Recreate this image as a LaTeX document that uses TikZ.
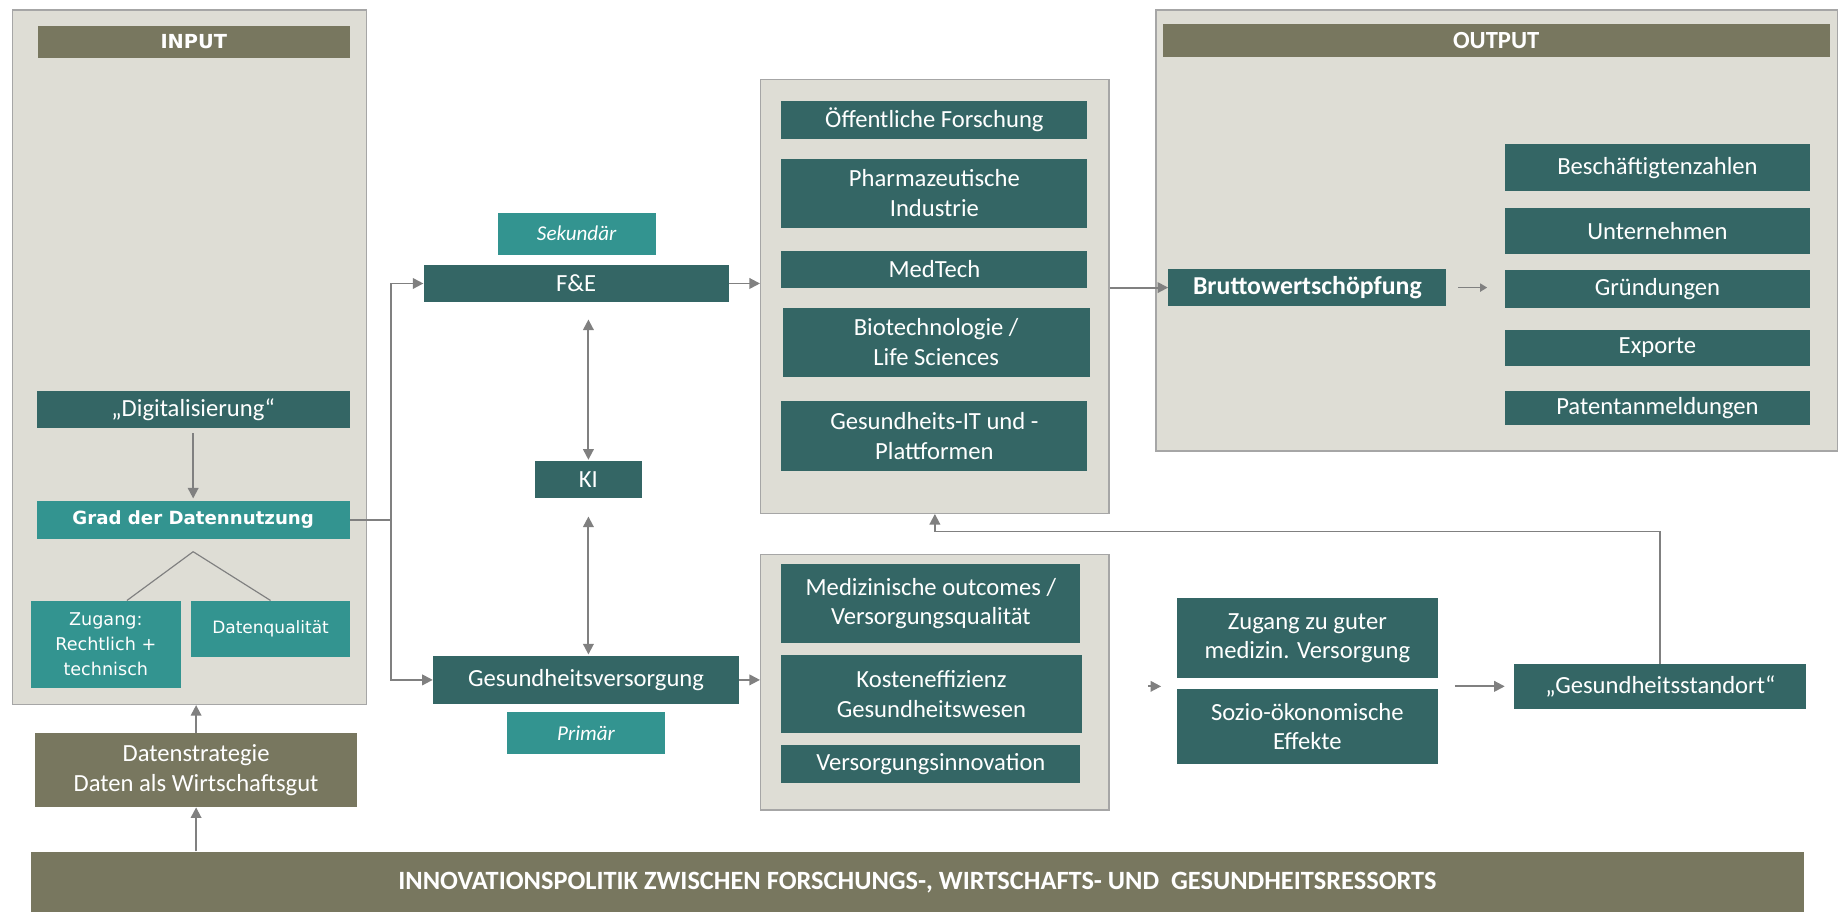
\documentclass[tikz,border=0pt]{standalone}
\usepackage{fontspec}
\setmainfont{Carlito}
\newfontfamily\vfont{DejaVu Sans}
\usetikzlibrary{arrows.meta,positioning}
\definecolor{dunkel}{HTML}{346665}
\definecolor{hell}{HTML}{339490}
\definecolor{oliv}{HTML}{78775F}
\definecolor{flaeche}{HTML}{DEDDD5}
\definecolor{rahmen}{HTML}{A6A6A6}
\definecolor{pfeil}{HTML}{808080}
\begin{document}
\begin{tikzpicture}[x=1pt, y=-1pt,
   every node/.style={anchor=north west, inner sep=0pt, align=center, text=white, font=\fontsize{21}{25}\selectfont},
   panel/.style={draw=rahmen, fill=flaeche, line width=1.2pt},
   dk/.style={fill=dunkel},
   hl/.style={fill=hell},
   ol/.style={fill=oliv},
   vd/.style={font=\fontsize{#1}{21.5}\selectfont\vfont},
   vdb/.style={font=\fontsize{#1}{18}\selectfont\vfont\bfseries},
   kursiv/.style={font=\fontsize{18}{22}\selectfont\itshape},
   pf/.style={draw=pfeil, line width=1.6pt, -{Triangle[length=9pt, width=9pt]}},
   dpf/.style={pf, {Triangle[length=9pt, width=9pt]}-{Triangle[length=9pt, width=9pt]}}]
   \useasboundingbox (0,0) rectangle (1568,777);
   % input
   \node[panel, minimum width=302pt, minimum height=592pt] (inp) at (10,8) {};
   \node[ol, minimum width=266pt, minimum height=27pt, vdb=16.5] (inph) at (32,22) {INPUT};
   \node[dk, minimum width=267pt, minimum height=32pt] (digi) at (31,333) {„Digitalisierung“};
   \node[hl, minimum width=267pt, minimum height=32pt, vdb=15.5] (grad) at (31,427) {Grad der Datennutzung};
   \node[hl, minimum width=128pt, minimum height=74pt, vd=15] (zug) at (26,512) {Zugang:\\Rechtlich +\\technisch};
   \node[hl, minimum width=135pt, minimum height=48pt, vd=14.5] (qual) at (163,512) {Datenqualität};
   \node[ol, minimum width=274pt, minimum height=63pt] (strat) at (30,625) {Datenstrategie\\Daten als Wirtschaftsgut};
   \node[ol, minimum width=1512pt, minimum height=52pt, font=\fontsize{22.5}{25}\selectfont\bfseries] (bar) at (26,726) {INNOVATIONSPOLITIK ZWISCHEN FORSCHUNGS-, WIRTSCHAFTS- UND\ \ GESUNDHEITSRESSORTS};
   % mitte
   \node[hl, minimum width=135pt, minimum height=36pt, kursiv] (sek) at (424,181) {Sekundär};
   \node[dk, minimum width=260pt, minimum height=31pt] (fe) at (361,226) {F\&E};
   \node[dk, minimum width=91pt, minimum height=31pt] (ki) at (456,393) {KI};
   \node[dk, minimum width=261pt, minimum height=41pt] (gv) at (369,559) {Gesundheitsversorgung};
   \node[hl, minimum width=135pt, minimum height=36pt, kursiv] (prim) at (432,607) {Primär};
   \node[panel, minimum width=297pt, minimum height=370pt] (top) at (648,67) {};
   \node[dk, minimum width=261pt, minimum height=32pt] (oef) at (666,86) {Öffentliche Forschung};
   \node[dk, minimum width=261pt, minimum height=59pt] (pharma) at (666,135) {Pharmazeutische\\Industrie};
   \node[dk, minimum width=261pt, minimum height=31pt] (med) at (666,214) {MedTech};
   \node[dk, minimum width=262pt, minimum height=59pt] (bio) at (667,262) {Biotechnologie /\\Life Sciences};
   \node[dk, minimum width=261pt, minimum height=59pt] (git) at (666,342) {Gesundheits-IT und -\\Plattformen};
   \node[panel, minimum width=297pt, minimum height=218pt] (bot) at (648,472) {};
   \node[dk, minimum width=255pt, minimum height=67pt] (outc) at (666,481) {Medizinische outcomes /\\Versorgungsqualität};
   \node[dk, minimum width=256pt, minimum height=67pt] (kost) at (666,558) {Kosteneffizienz\\Gesundheitswesen};
   \node[dk, minimum width=255pt, minimum height=32pt] (vinn) at (666,635) {Versorgungsinnovation};
   \node[dk, minimum width=223pt, minimum height=68pt] (zgv) at (1003,510) {Zugang zu guter\\medizin. Versorgung};
   \node[dk, minimum width=223pt, minimum height=64pt] (sozio) at (1003,587) {Sozio-ökonomische\\Effekte};
   \node[dk, minimum width=249pt, minimum height=38pt] (gst) at (1291,566) {„Gesundheitsstandort“};
   % output
   \node[panel, minimum width=581pt, minimum height=376pt] (out) at (985,8) {};
   \node[ol, minimum width=569pt, minimum height=28pt, font=\fontsize{21}{25}\selectfont\bfseries] (outh) at (991,20) {OUTPUT};
   \node[dk, minimum width=237pt, minimum height=32pt, font=\fontsize{22}{25}\selectfont\bfseries] (bws) at (996,229) {Bruttowertschöpfung};
   \node[dk, minimum width=260pt, minimum height=40pt] (besch) at (1283,123) {Beschäftigtenzahlen};
   \node[dk, minimum width=260pt, minimum height=39pt] (unt) at (1283,177) {Unternehmen};
   \node[dk, minimum width=260pt, minimum height=32pt] (gru) at (1283,230) {Gründungen};
   \node[dk, minimum width=260pt, minimum height=31pt] (exp) at (1283,281) {Exporte};
   \node[dk, minimum width=260pt, minimum height=29pt] (pat) at (1283,333) {Patentanmeldungen};
   % pfeile
   \draw[pf, shorten <=4pt, shorten >=2pt] (digi) -- (grad);
   \draw[draw=pfeil, line width=1pt] ([yshift=-11pt]grad.south) -- ([xshift=18pt]zug.north);
   \draw[draw=pfeil, line width=1pt] ([yshift=-11pt]grad.south) -- (qual.north);
   \draw[pf] (strat) -- (strat |- inp.south);
   \draw[pf] (bar.north -| strat) -- (strat);
   \draw[pf] (grad.east) -- ++(35,0) |- (fe);
   \draw[pf] (grad.east) -- ++(35,0) |- (gv);
   \draw[pf] (fe) -- (fe -| top.west);
   \draw[dpf, shorten <=15pt, shorten >=1pt] (ki.north |- fe.south) -- (ki.north);
   \draw[dpf, shorten <=16pt, shorten >=1pt] (ki.south) -- (ki.south |- gv.north);
   \draw[pf] (gv) -- (gv -| bot.west);
   \draw[pf] (top.east |- bws) -- (bws);
   \draw[draw=pfeil, line width=1.2pt, -{Triangle[length=6pt, width=7pt]}, shorten <=10pt, shorten >=15pt] (bws.east) -- (bws.east -| gru.west);
   \draw[pf, shorten <=33pt, shorten >=13pt] (gst.west -| bot.east) -- (gst.west -| zgv.west);
   \draw[pf, shorten <=14pt, shorten >=8pt] (gst.west -| zgv.east) -- (gst.west);
   \draw[pf] (gst) -- ++(0,-132) -| (top);
\end{tikzpicture}
\end{document}
